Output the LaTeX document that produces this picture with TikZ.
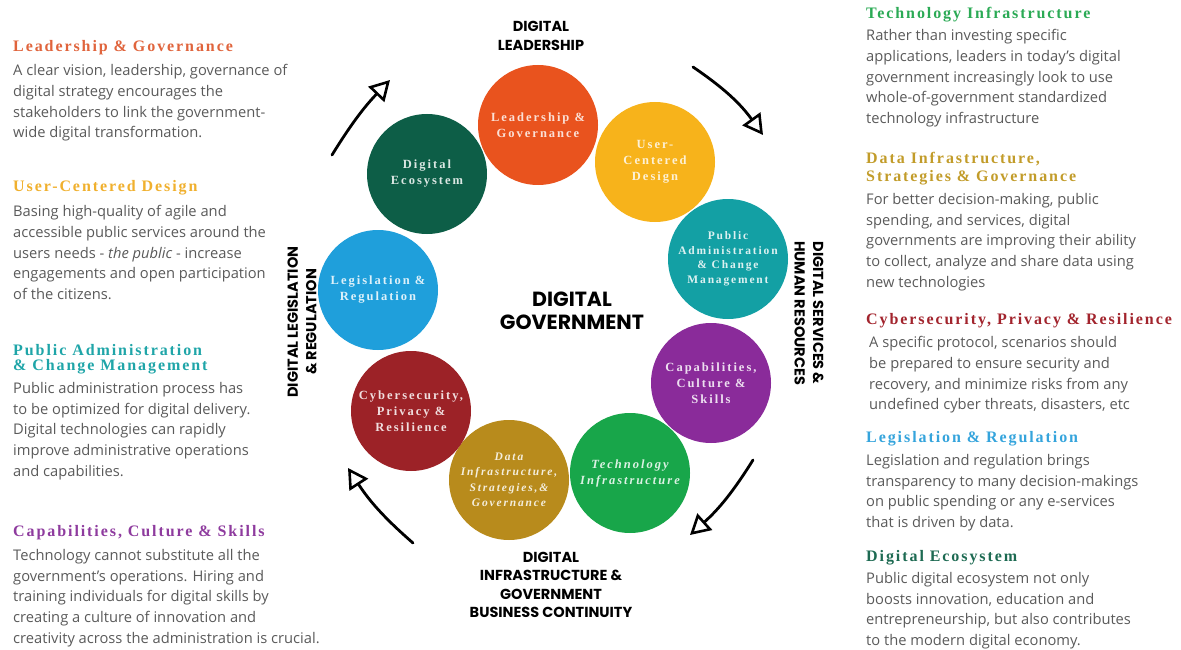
\documentclass[tikz,border=0pt]{standalone}
\usepackage{fontspec}
\setmainfont{Open Sans}
\newfontfamily\headfont[LetterSpace=12]{Liberation Serif}
\newfontfamily\discfont[LetterSpace=16]{Liberation Serif}
\newfontfamily\capfont{Poppins}
\usetikzlibrary{arrows.meta}

\definecolor{cLead}{HTML}{E9531E}
\definecolor{cUser}{HTML}{F7B31B}
\definecolor{cPub}{HTML}{13A0A4}
\definecolor{cCap}{HTML}{8A2B9A}
\definecolor{cTech}{HTML}{18A64A}
\definecolor{cData}{HTML}{B88B1C}
\definecolor{cCyber}{HTML}{9C2227}
\definecolor{cLegis}{HTML}{1F9FDB}
\definecolor{cEco}{HTML}{0D5E47}
\definecolor{hLead}{HTML}{E0643C}
\definecolor{hUser}{HTML}{F0B02E}
\definecolor{hPub}{HTML}{1FA5A8}
\definecolor{hCap}{HTML}{8E3B9E}
\definecolor{hTech}{HTML}{2BAA55}
\definecolor{hData}{HTML}{C29C2A}
\definecolor{hCyber}{HTML}{A2242D}
\definecolor{hLegis}{HTML}{35A4DC}
\definecolor{hEco}{HTML}{1D6A52}
\definecolor{bodygray}{HTML}{5A5A5A}

\begin{document}
\begin{tikzpicture}[x=1pt,y=-1pt,
  disc/.style={circle, minimum size=120pt, inner sep=0, align=center,
    font=\discfont\bfseries\fontsize{12.5}{16}\selectfont},
  heading/.style={anchor=west, inner sep=0, align=left,
    font=\headfont\bfseries\fontsize{16}{15}\selectfont},
  body/.style={anchor=north west, inner sep=0, align=left, text=bodygray,
    font=\fontsize{14.7}{20.8}\selectfont},
  caption/.style={inner sep=0, align=center,
    font=\capfont\bfseries\fontsize{14.5}{18.5}\selectfont},
  cyclearrow/.style={line width=2.8pt, line cap=round,
    -{Triangle[open,length=20pt,width=22pt,line width=2.6pt]}}
]
\useasboundingbox (0,0) rectangle (1181,650);

% ---- ring of focus areas ----
\node[disc, fill=cLead, text=cLead!18!white] (lead) at (538,125) {Leadership \&\\Governance};
\node[disc, fill=cUser, text=cUser!18!white] (user) at (655,162) {User-\\Centered\\Design};
\node[disc, fill=cPub, text=cPub!15!white, font=\discfont\bfseries\fontsize{11.5}{14.5}\selectfont] (pub) at (728,259) {Public\\Administration\\\& Change\\Management};
\node[disc, fill=cCap, text=cCap!15!white] (cap) at (711,383) {Capabilities,\\Culture \&\\Skills};
\node[disc, fill=cTech, text=cTech!15!white, font=\discfont\bfseries\itshape\fontsize{12.5}{16}\selectfont] (tech) at (630,473) {Technology\\Infrastructure};
\node[disc, fill=cData, text=cData!15!white, font=\discfont\bfseries\itshape\fontsize{11.5}{15.5}\selectfont] (data) at (509,480) {Data\\Infrastructure,\\Strategies,\&\\Governance};
\node[disc, fill=cCyber, text=cCyber!15!white] (cyber) at (411,411) {Cybersecurity,\\Privacy \&\\Resilience};
\node[disc, fill=cLegis, text=cLegis!15!white] (legis) at (378,290) {Legislation \&\\Regulation};
\node[disc, fill=cEco, text=cEco!15!white] (eco) at (427,174) {Digital\\Ecosystem};

% ---- centre and quadrant captions ----
\node[caption, font=\capfont\bfseries\fontsize{20.5}{23}\selectfont] (gov) at (572,311) {DIGITAL\\GOVERNMENT};
\node[caption] (capTop) at (541,36) {DIGITAL\\LEADERSHIP};
\node[caption] (capBot) at (551,585) {DIGITAL\\INFRASTRUCTURE \&\\GOVERNMENT\\BUSINESS CONTINUITY};
\node[caption, rotate=90] (capLeft) at (302,322) {DIGITAL LEGISLATION\\\& REGULATION};
\node[caption, rotate=-90] (capRight) at (809,313) {DIGITAL SERVICES \&\\HUMAN RESOURCES};

% ---- cycle arrows ----
\coordinate (a1s) at (332,155); \coordinate (a1e) at (390,80);
\coordinate (a2s) at (693,67);  \coordinate (a2e) at (763,135);
\coordinate (a3s) at (753,460); \coordinate (a3e) at (690,535);
\coordinate (a4s) at (413,543); \coordinate (a4e) at (348,468);
\draw[cyclearrow] (a1s) to[bend left=6] (a1e);
\draw[cyclearrow] (a2s) to[bend left=10] (a2e);
\draw[cyclearrow] (a3s) to[bend left=8] (a3e);
\draw[cyclearrow] (a4s) to[bend left=8] (a4e);

% ---- left column ----
\node[heading, text=hLead] (h1) at (13,48) {Leadership \& Governance};
\node[body] (b1) at (13,64) {A clear vision, leadership, governance of\\digital strategy encourages the\\stakeholders to link the government-\\wide digital transformation.};
\node[heading, text=hUser] (h2) at (13,188) {User-Centered Design};
\node[body] (b2) at (13,205) {Basing high-quality of agile and\\accessible public services around the\\users needs - \textit{the public} - increase\\engagements and open participation\\of the citizens.};
\node[heading, text=hPub] (h3) at (13,359) {Public Administration\\\& Change Management};
\node[body] (b3) at (13,382) {Public administration process has\\to be optimized for digital delivery.\\Digital technologies can rapidly\\improve administrative operations\\and capabilities.};
\node[heading, text=hCap] (h4) at (13,533) {Capabilities, Culture \& Skills};
\node[body] (b4) at (13,549) {Technology cannot substitute all the\\government's operations. Hiring and\\training individuals for digital skills by\\creating a culture of innovation and\\creativity across the administration is crucial.};

% ---- right column ----
\node[heading, text=hTech] (h5) at (866,15) {Technology Infrastructure};
\node[body] (b5) at (866,29) {Rather than investing specific\\applications, leaders in today's digital\\government increasingly look to use\\whole-of-government standardized\\technology infrastructure};
\node[heading, text=hData, font=\headfont\bfseries\fontsize{16}{18}\selectfont] (h6) at (866,169) {Data Infrastructure,\\Strategies \& Governance};
\node[body] (b6) at (866,193) {For better decision-making, public\\spending, and services, digital\\governments are improving their ability\\to collect, analyze and share data using\\new technologies};
\node[heading, text=hCyber] (h7) at (866,321) {Cybersecurity, Privacy \& Resilience};
\node[body] (b7) at (869,336) {A specific protocol, scenarios should\\be prepared to ensure security and\\recovery, and minimize risks from any\\undefined cyber threats, disasters, etc};
\node[heading, text=hLegis] (h8) at (866,439) {Legislation \& Regulation};
\node[body] (b8) at (866,454) {Legislation and regulation brings\\transparency to many decision-makings\\on public spending or any e-services\\that is driven by data.};
\node[heading, text=hEco] (h9) at (866,558) {Digital Ecosystem};
\node[body] (b9) at (866,572) {Public digital ecosystem not only\\boosts innovation, education and\\entrepreneurship, but also contributes\\to the modern digital economy.};
\end{tikzpicture}
\end{document}
